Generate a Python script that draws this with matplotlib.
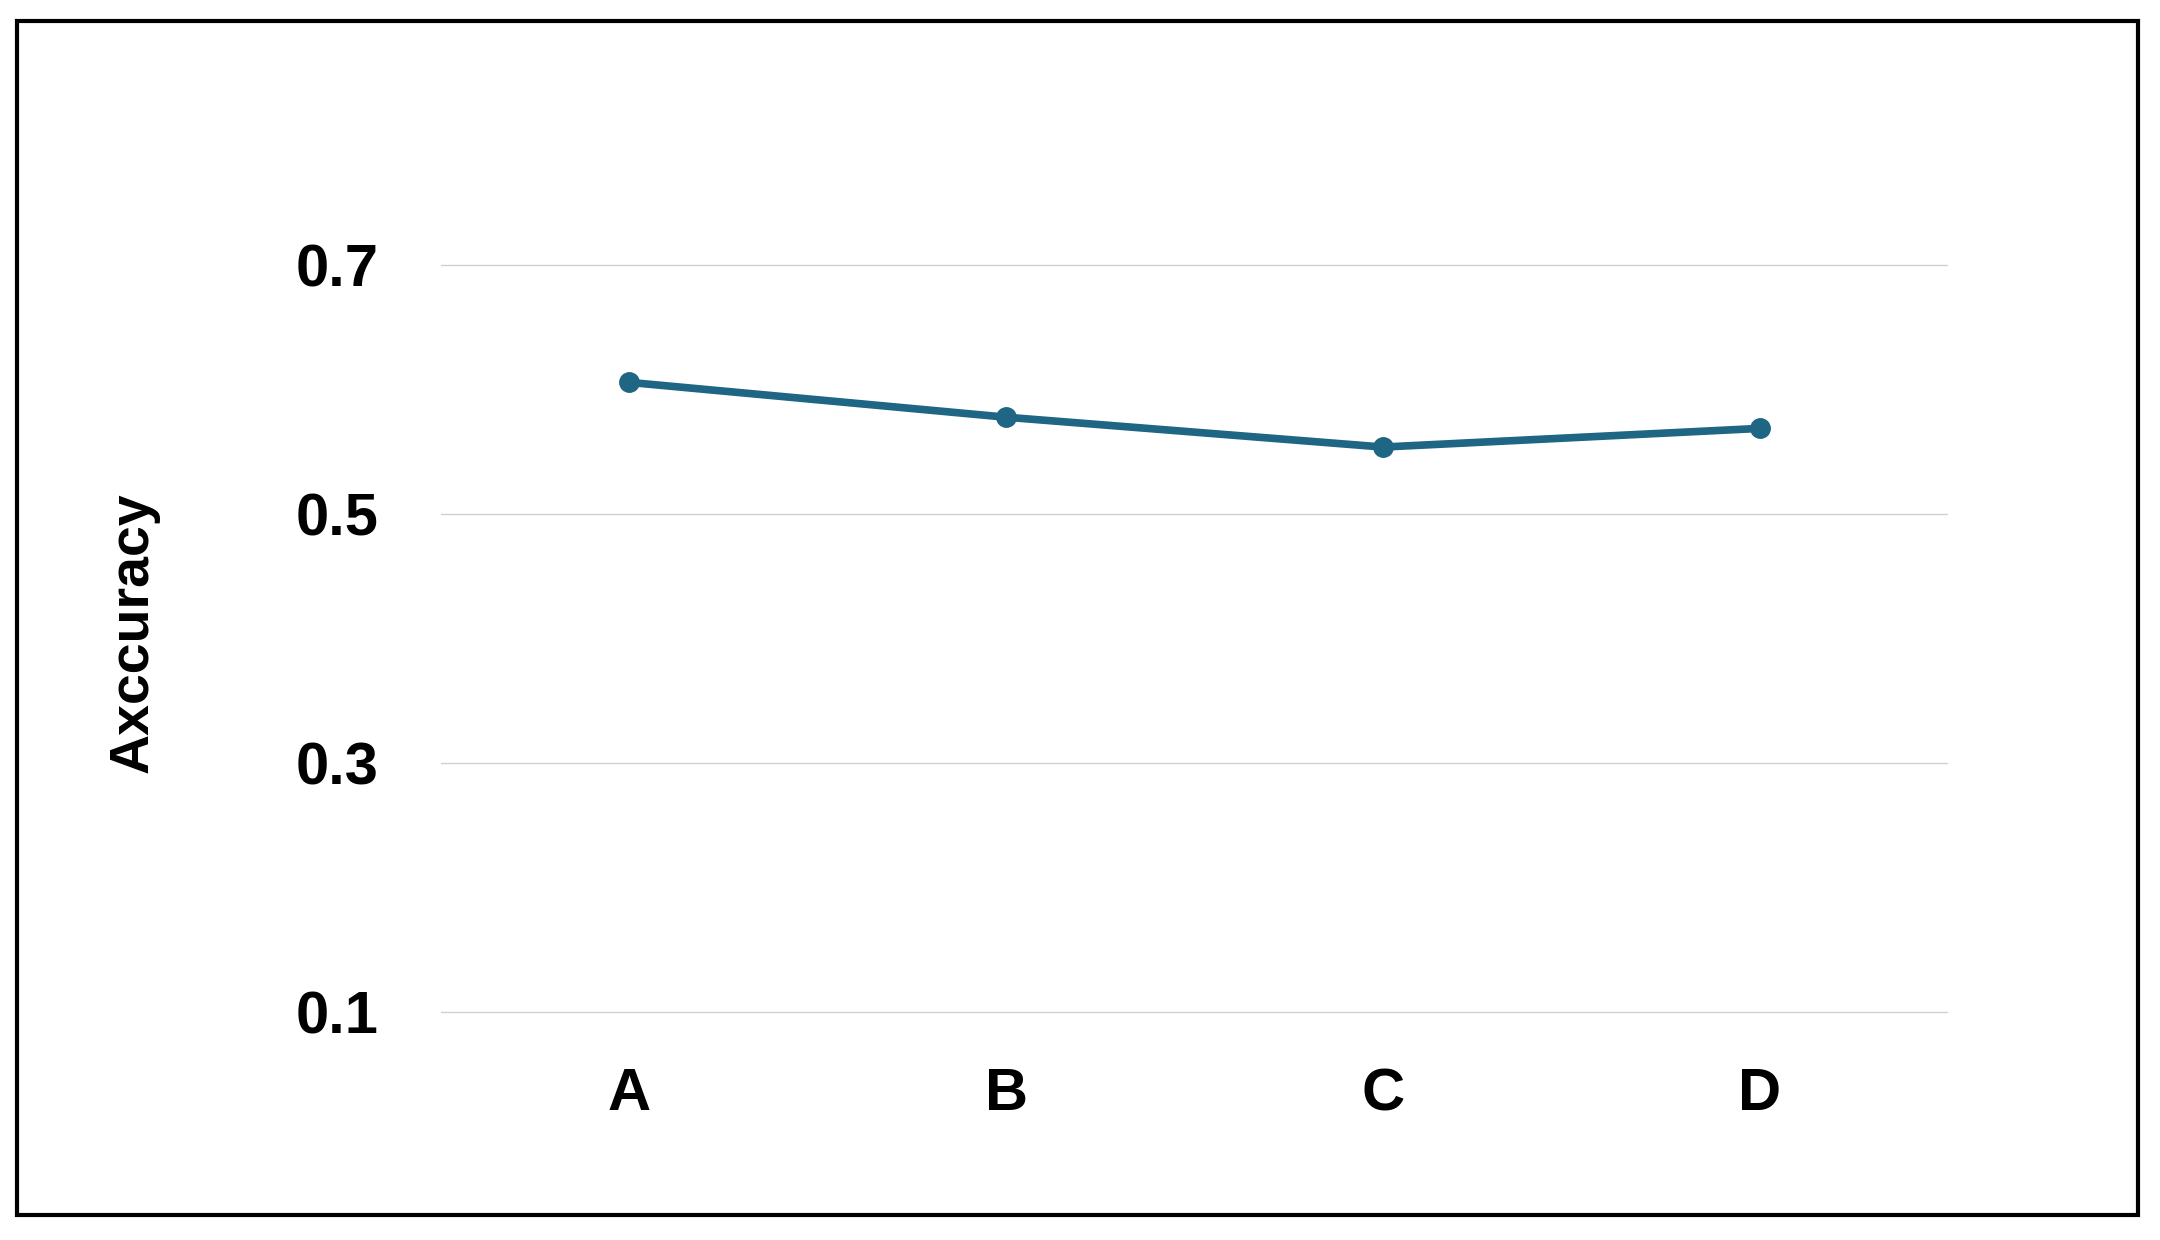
import matplotlib
matplotlib.use("Agg")
import matplotlib.pyplot as plt
from matplotlib.patches import Rectangle

categories = ["A", "B", "C", "D"]
accuracy = [0.606, 0.578, 0.554, 0.569]
yticks = [0.1, 0.3, 0.5, 0.7]

plt.rcParams['font.family'] = ['Liberation Sans', 'DejaVu Sans']
fig = plt.figure(figsize=(21.6, 12.4), dpi=100)
ax = fig.add_axes([0.204, 0.182, 0.698, 0.624])
x = list(range(len(categories)))
ax.plot(x, accuracy, color="#1f6584", lw=5.5, marker="o", ms=14, zorder=3)
ax.set_xlim(-0.5, 3.5)
ax.set_ylim(0.098, 0.72)
ax.set_yticks(yticks)
ax.set_yticklabels([f"{v:.1f}" for v in yticks], fontsize=43, fontweight="bold")
ax.set_xticks(x)
ax.set_xticklabels(categories, fontsize=43, fontweight="bold")
ax.tick_params(length=0, pad=45, axis="y")
ax.tick_params(length=0, pad=38, axis="x")
ax.grid(axis="y", color="#d0d0d0", lw=1)
for s in ax.spines.values():
    s.set_visible(False)
fig.text(0.062, 0.49, "Axccuracy", rotation=90, fontsize=40, fontweight="bold",
         ha="center", va="center")
fig.patches.append(Rectangle((0.0077, 0.02), 0.982, 0.963, transform=fig.transFigure,
                             fill=False, lw=3, edgecolor="black"))
fig.savefig("out.png", dpi=100)
